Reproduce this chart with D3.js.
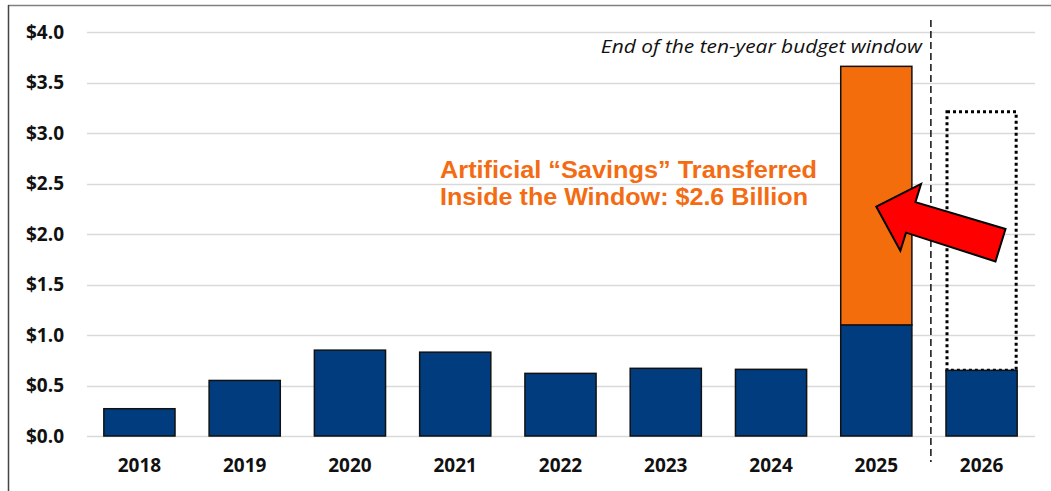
<!DOCTYPE html>
<html>
<head>
<meta charset="utf-8">
<script src="https://cdn.jsdelivr.net/npm/d3@7"></script>
<style>
body{margin:0;background:#fff;}
svg{display:block;}
.tick-label{font-family:"Open Sans",sans-serif;font-weight:700;font-size:19px;fill:#111;}
.note{font-family:"Open Sans",sans-serif;font-style:italic;font-size:18px;fill:#111;}
.callout{font-family:"Liberation Sans",Arial,sans-serif;font-weight:700;font-size:23px;fill:#F36B12;}
</style>
</head>
<body>
<svg id="chart"></svg>
<script>
// data (billions of dollars)
var years=["2018","2019","2020","2021","2022","2023","2024","2025","2026"]
var baseValues=[0.27,0.55,0.85,0.83,0.62,0.67,0.66,1.10,0.65]
var shiftedValues=[0,0,0,0,0,0,0,2.56,0]
var movedOutValues=[0,0,0,0,0,0,0,0,2.56]
var yTicks=[0,0.5,1.0,1.5,2.0,2.5,3.0,3.5,4.0]
var windowEnd="2025"
var noteText="End of the ten-year budget window"
var calloutLines=["Artificial \u201cSavings\u201d Transferred","Inside the Window: $2.6 Billion"]

var screen={width:1051,height:491}
var margins={left:87,right:19,top:32,bottom:55}

var svg=d3.select("#chart")
    .attr("width",screen.width)
    .attr("height",screen.height)

var xScale=d3.scaleBand()
    .domain(years)
    .range([margins.left,margins.left+947])
    .paddingInner(0.324)
    .paddingOuter(0.16)
var yScale=d3.scaleLinear()
    .domain([0,4])
    .range([436,32])

//frame around the chart
svg.append("line")
    .attr("x1",8).attr("x2",screen.width)
    .attr("y1",5.5).attr("y2",5.5)
    .attr("stroke","#808080").attr("stroke-width",1.5)
svg.append("line")
    .attr("x1",8.5).attr("x2",8.5)
    .attr("y1",5).attr("y2",screen.height)
    .attr("stroke","#444").attr("stroke-width",1.5)

//gridlines
svg.append("g")
    .selectAll("line")
    .data(yTicks)
    .enter()
    .append("line")
    .attr("x1",margins.left)
    .attr("x2",margins.left+948)
    .attr("y1",function(d){return Math.round(yScale(d))+0.5})
    .attr("y2",function(d){return Math.round(yScale(d))+0.5})
    .attr("stroke","#d9d9d9")
    .attr("stroke-width",1.3)

//y labels
svg.append("g")
    .selectAll("text")
    .data(yTicks)
    .enter()
    .append("text")
    .classed("tick-label",true)
    .attr("text-anchor","end")
    .attr("x",64)
    .attr("y",function(d){return yScale(d)})
    .attr("dy","0.36em")
    .text(function(d){return "$"+d3.format(".1f")(d)})

//x labels
svg.append("g")
    .selectAll("text")
    .data(years)
    .enter()
    .append("text")
    .classed("tick-label",true)
    .attr("text-anchor","middle")
    .attr("x",function(d){return xScale(d)+xScale.bandwidth()/2})
    .attr("y",472)
    .text(function(d){return d})

var rows=years.map(function(y,i){
    return {year:y,base:baseValues[i],shifted:shiftedValues[i],moved:movedOutValues[i]}
})

//dotted outline for savings moved out of 2026
svg.append("g")
    .selectAll("rect")
    .data(rows.filter(function(r){return r.moved>0}))
    .enter()
    .append("rect")
    .attr("x",function(d){return xScale(d.year)+1})
    .attr("width",xScale.bandwidth()-2)
    .attr("y",function(d){return yScale(d.base+d.moved)})
    .attr("height",function(d){return yScale(d.base)-yScale(d.base+d.moved)})
    .attr("fill","none")
    .attr("stroke","#000")
    .attr("stroke-width",3)
    .attr("stroke-dasharray","3,3")

//base bars
svg.append("g")
    .selectAll("rect")
    .data(rows)
    .enter()
    .append("rect")
    .attr("x",function(d){return xScale(d.year)})
    .attr("width",xScale.bandwidth())
    .attr("y",function(d){return yScale(d.base)})
    .attr("height",function(d){return yScale(0)-yScale(d.base)})
    .attr("fill","#003C7E")
    .attr("stroke","#111")
    .attr("stroke-width",1.5)

//orange shifted savings
svg.append("g")
    .selectAll("rect")
    .data(rows.filter(function(r){return r.shifted>0}))
    .enter()
    .append("rect")
    .attr("x",function(d){return xScale(d.year)})
    .attr("width",xScale.bandwidth())
    .attr("y",function(d){return yScale(d.base+d.shifted)})
    .attr("height",function(d){return yScale(d.base)-yScale(d.base+d.shifted)})
    .attr("fill","#F46D0D")
    .attr("stroke","#111")
    .attr("stroke-width",1.5)

//budget window divider
var dividerX=xScale(windowEnd)+xScale.bandwidth()+19
svg.append("line")
    .attr("x1",dividerX).attr("x2",dividerX)
    .attr("y1",20).attr("y2",462)
    .attr("stroke","#111")
    .attr("stroke-width",1.5)
    .attr("stroke-dasharray","7,4")
svg.append("text")
    .classed("note",true)
    .attr("text-anchor","end")
    .attr("x",dividerX-9)
    .attr("y",53)
    .attr("textLength",321)
    .attr("lengthAdjust","spacingAndGlyphs")
    .text(noteText)

//callout text (the source picture is a little stretched sideways)
var calloutWidths=[377,368]
svg.append("g")
    .selectAll("text")
    .data(calloutLines)
    .enter()
    .append("text")
    .classed("callout",true)
    .attr("x",440)
    .attr("y",function(d,i){return 178+i*27})
    .attr("textLength",function(d,i){return calloutWidths[i]})
    .attr("lengthAdjust","spacingAndGlyphs")
    .text(function(d){return d})

//red arrow pointing at the orange segment
var tipX=xScale(windowEnd)+xScale.bandwidth()/2
var tipY=yScale(2.27)
var angle=17.2*Math.PI/180
var arrowShape=[[0,0],[36,-35],[36,-16],[130,-17],[130,17],[36,16],[36,35]]
var arrowPts=arrowShape.map(function(p){
    return [tipX+p[0]*Math.cos(angle)-p[1]*Math.sin(angle),
            tipY+p[0]*Math.sin(angle)+p[1]*Math.cos(angle)]
})
svg.append("path")
    .attr("d","M"+arrowPts.join("L")+"Z")
    .attr("fill","#FF0000")
    .attr("stroke","#000")
    .attr("stroke-width",2)
    .attr("stroke-linejoin","miter")
</script>
</body>
</html>
